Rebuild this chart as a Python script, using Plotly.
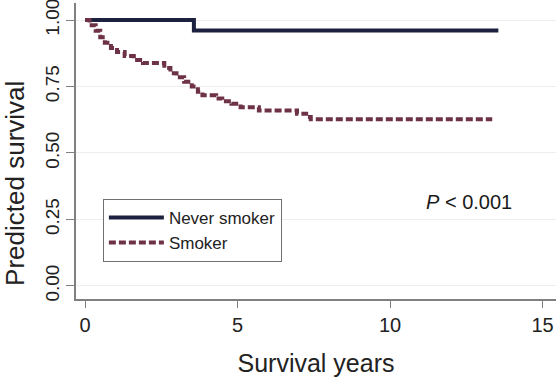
import plotly.graph_objects as go

# Kaplan-Meier style step data (years, predicted survival)
never_t = [0, 3.57, 13.55]
never_s = [1.0, 0.961, 0.961]

smoker_t = [0, 0.15, 0.35, 0.5, 0.65, 0.85, 1.05, 1.3, 1.6, 1.9, 2.6, 2.8, 3.0,
            3.25, 3.5, 3.7, 3.85, 4.3, 4.5, 4.8, 5.1, 5.7, 6.95, 7.25, 7.4, 13.35]
smoker_s = [1.0, 0.98, 0.96, 0.935, 0.915, 0.895, 0.88, 0.865, 0.85, 0.838, 0.82,
            0.80, 0.785, 0.768, 0.75, 0.73, 0.717, 0.705, 0.695, 0.685, 0.672,
            0.66, 0.648, 0.635, 0.627, 0.627]

x_ticks = [0, 5, 10, 15]
y_ticks = [0, 0.25, 0.5, 0.75, 1.0]
y_ticklabels = ["0.00", "0.25", "0.50", "0.75", "1.00"]

font = "Liberation Sans, Arial, sans-serif"

fig = go.Figure()
fig.add_trace(go.Scatter(x=never_t, y=never_s, mode="lines", name="Never smoker",
                         line=dict(color="#1d2140", width=4, shape="hv")))
fig.add_trace(go.Scatter(x=smoker_t, y=smoker_s, mode="lines", name="Smoker",
                         line=dict(color="#6d3247", width=4, shape="hv", dash="7px,3px")))

fig.add_annotation(x=12.6, y=0.316, xref="x", yref="y",
                   text="<i>P</i> < 0.001", showarrow=False,
                   font=dict(family=font, size=20, color="#1a1a1a"),
                   xanchor="center", yanchor="middle")

# y-axis title placed as a rotated annotation (sits below the plot centre, as in the original)
fig.add_annotation(x=-0.127, y=0.389, xref="paper", yref="paper",
                   text="Predicted survival", showarrow=False, textangle=-90,
                   font=dict(family=font, size=26, color="#222222"),
                   xanchor="center", yanchor="middle", borderpad=0)

fig.update_layout(
    width=556, height=377,
    margin=dict(l=76, r=0, t=3, b=78, autoexpand=False),
    paper_bgcolor="white", plot_bgcolor="white",
    font=dict(family=font, color="#222222"),
    showlegend=True,
    legend=dict(x=0.056, y=0.338, xanchor="left", yanchor="top",
                bordercolor="#707070", borderwidth=1, bgcolor="white",
                font=dict(family=font, size=17, color="#222222"),
                itemwidth=55, tracegroupgap=0),
    xaxis=dict(range=[-0.295, 15.44], tickvals=x_ticks, ticks="outside", ticklen=7,
               tickcolor="#808080", showline=True, linecolor="#808080", linewidth=1.5,
               showgrid=False, zeroline=False, automargin=False,
               tickfont=dict(size=20, color="#222222"),
               title=dict(text="Survival years", font=dict(size=25, color="#222222"), standoff=20)),
    yaxis=dict(range=[-0.049, 1.064], tickvals=y_ticks, ticktext=y_ticklabels,
               ticks="outside", ticklen=8, tickcolor="#808080", tickangle=-90,
               ticklabeloverflow="allow",
               showline=True, linecolor="#808080", linewidth=1.5, automargin=False,
               showgrid=True, gridcolor="#eeeeee", gridwidth=1, zeroline=False,
               tickfont=dict(size=19, color="#222222")),
)

fig.write_html("out.html", config={"displayModeBar": False},
               post_script="document.body.style.margin='0';document.body.style.padding='0';")
